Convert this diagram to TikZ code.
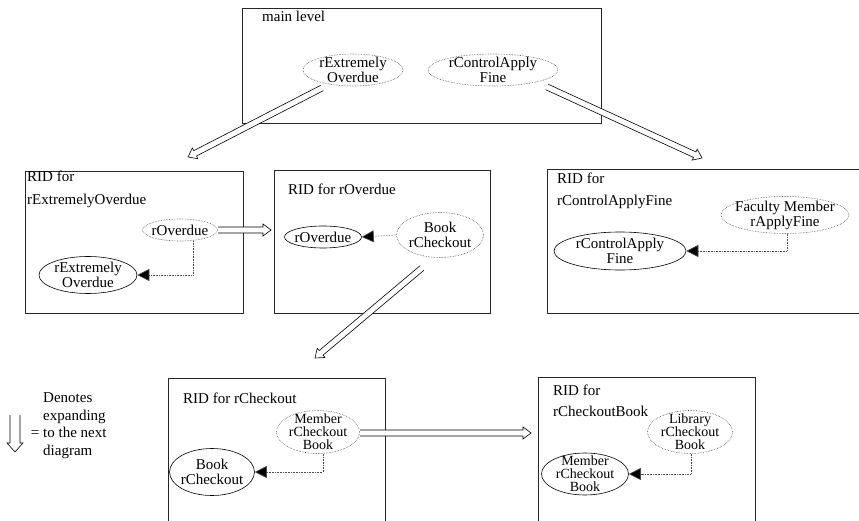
\documentclass[tikz,border=0pt]{standalone}
\usepackage{fontspec}
\setmainfont{Liberation Serif}
\usetikzlibrary{shapes.geometric,arrows.meta,calc}
% outlined "expanding" arrow: #1 start, #2 end, #3 half shaft, #4 half head, #5 head length
\newcommand\myexparrow[5]{%
  \coordinate (hb) at ($(#2)!#5!(#1)$);
  \fill[white] ($(#1)!#3!90:(#2)$) -- ($(hb)!#3!90:(#2)$) -- ($(hb)!#4!90:(#2)$) -- (#2)
     -- ($(hb)!#4!-90:(#2)$) -- ($(hb)!#3!-90:(#2)$) -- ($(#1)!#3!-90:(#2)$) -- cycle;
  \draw[exparrowline] ($(#1)!#3!90:(#2)$) -- ($(hb)!#3!90:(#2)$) -- ($(hb)!#4!90:(#2)$) -- (#2)
     -- ($(hb)!#4!-90:(#2)$) -- ($(hb)!#3!-90:(#2)$) -- ($(#1)!#3!-90:(#2)$);
}
\begin{document}
\begin{tikzpicture}[x=1pt,y=-1pt,
  font=\fontsize{15}{17}\selectfont,
  frame/.style={draw=black!85, line width=0.8pt},
  title/.style={anchor=base west, inner sep=0pt, align=left},
  ellbase/.style={ellipse, inner sep=0pt, minimum width=#1},
  solidell/.style={ellbase=#1, draw, line width=0.6pt},
  dotell/.style={ellbase=#1, draw=black!70, densely dotted, line width=0.6pt},
  lbl/.style={inner sep=0pt, align=center, font=\fontsize{15}{15}\selectfont},
  lblthree/.style={inner sep=0pt, align=center, font=\fontsize{14}{13}\selectfont},
  dep/.style={draw=black!70, densely dotted, line width=0.6pt, -{Triangle[length=12pt,width=12pt,fill=black]}},
  exparrowline/.style={draw=black, line width=0.6pt, line join=miter}
]
\useasboundingbox (0,0) rectangle (859,521);

% frames
\draw[frame] (242,8) rectangle (601,123);
\draw[frame] (25,171) rectangle (243,313);
\draw[frame] (274,170) rectangle (490,313);
\draw[frame] (862,169) -| (547,313) -- (862,313);
\draw[frame] (168,524) |- (385,378) -- (385,524);
\draw[frame] (538,524) |- (755,377) -- (755,524);

% titles
\node[title] (t0) at (262,22) {main level};
\node[title] (t1a) at (27,182) {RID for};
\node[title] (t1b) at (27,205) {rExtremelyOverdue};
\node[title] (t2) at (288,195) {RID for rOverdue};
\node[title] (t3a) at (557,184) {RID for};
\node[title] (t3b) at (557,206) {rControlApplyFine};
\node[title] (t4) at (183,403) {RID for rCheckout};
\node[title] (t5a) at (553,395) {RID for};
\node[title] (t5b) at (553,416) {rCheckoutBook};

% main level
\node[dotell=100, minimum height=32, label={[lbl]center:{rExtremely\\Overdue}}] (m1) at (353,70) {};
\node[dotell=130, minimum height=32, label={[lbl]center:{rControlApply\\Fine}}] (m2) at (493,70) {};

% RID for rExtremelyOverdue
\node[dotell=75, minimum height=22, label={[lbl]center:{rOverdue}}] (b2o) at (180,230) {};
\node[solidell=98, minimum height=37, label={[lbl]center:{rExtremely\\Overdue}}] (b2e) at (88,275) {};

% RID for rOverdue
\node[solidell=77, minimum height=22, label={[lbl]center:{rOverdue}}] (b3o) at (323,237) {};
\node[dotell=87, minimum height=45, label={[lbl]center:{Book\\rCheckout}}] (b3b) at (440,235) {};

% RID for rControlApplyFine
\node[dotell=128, minimum height=37, label={[lbl]center:{Faculty Member\\rApplyFine}}] (b4f) at (785,215) {};
\node[solidell=132, minimum height=38, label={[lbl]center:{rControlApply\\Fine}}] (b4c) at (620,251) {};

% RID for rCheckout
\node[dotell=83, minimum height=43, label={[lblthree]center:{Member\\rCheckout\\Book}}] (b5m) at (318,432) {};
\node[solidell=85, minimum height=47, label={[lbl]center:{Book\\rCheckout}}] (b5b) at (212,472) {};

% RID for rCheckoutBook
\node[dotell=85, minimum height=43, label={[lblthree]center:{Library\\rCheckout\\Book}}] (b6l) at (690,432) {};
\node[solidell=87, minimum height=42, label={[lblthree]center:{Member\\rCheckout\\Book}}] (b6m) at (585,474) {};

% dependency connectors
\draw[dep] ([xshift=13pt]b2o.south) |- (b2e.east);
\draw[dep] (b3b.west) -- (b3o.east);
\draw[dep] ([xshift=2pt]b4f.south) |- (b4c.east);
\draw[dep] ([xshift=5pt]b5m.south) |- (b5b.east);
\draw[dep] ([xshift=1pt]b6l.south) |- (b6m.east);

% expansion arrows
\coordinate (e1s) at (322,88);
\coordinate (e1e) at (188,157);
\coordinate (e2s) at (547,87);
\coordinate (e2e) at (702,158);
\coordinate (e3s) at (422,268);
\coordinate (e3e) at (315,358);
\coordinate (e4s) at (218,230);
\coordinate (e4e) at (271,230);
\coordinate (e5s) at (360,433);
\coordinate (e5e) at (531,433);
\myexparrow{e1s}{e1e}{3pt}{6pt}{8pt}
\myexparrow{e2s}{e2e}{3pt}{6pt}{8pt}
\myexparrow{e3s}{e3e}{3pt}{6pt}{8pt}
\myexparrow{e4s}{e4e}{3pt}{6pt}{8pt}
\myexparrow{e5s}{e5e}{3pt}{6pt}{8pt}

% legend
\coordinate (ls) at (15,415);
\coordinate (le) at (15,452);
\myexparrow{ls}{le}{5pt}{8pt}{9pt}
\node[inner sep=0pt, anchor=center] (eq) at (35,434) {=};
\node[title, font=\fontsize{15}{17.5}\selectfont] (lt) at (43,455) {Denotes\\expanding\\to the next\\diagram};
\end{tikzpicture}
\end{document}
